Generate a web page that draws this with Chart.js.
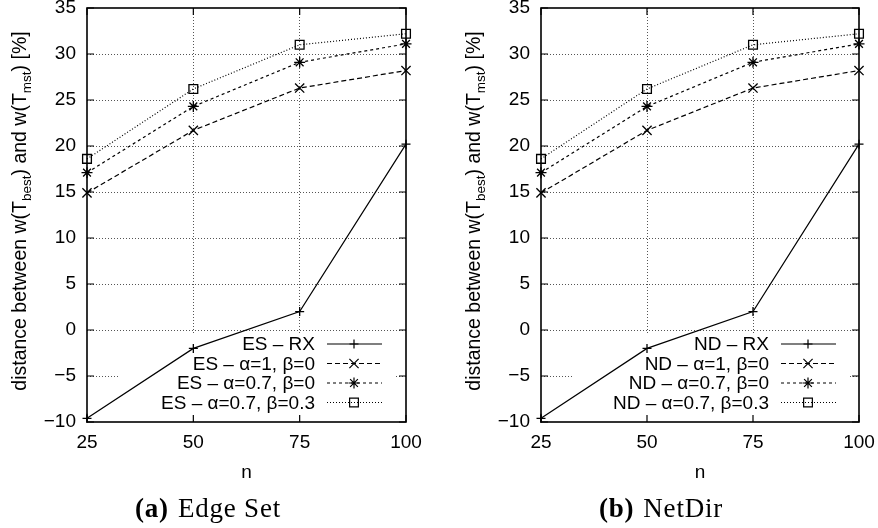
<!DOCTYPE html>
<html><head><meta charset="utf-8">
<script src="https://cdn.jsdelivr.net/npm/chart.js@4.4.1/dist/chart.umd.min.js"></script>
<style>
html,body{margin:0;padding:0;background:#fff;width:878px;height:528px;overflow:hidden;}
.panel{position:absolute;top:0;height:528px;}
canvas{display:block;}
.cap{position:absolute;top:493px;line-height:30px;font-family:"Liberation Serif","DejaVu Serif",serif;font-size:27px;letter-spacing:0.8px;color:#000;white-space:nowrap;transform:translateX(-50%);}
.cap b{margin-right:9px;}
</style></head><body>
<div class="panel" style="left:0;width:454px"><canvas id="c1" width="454" height="528"></canvas></div>
<div class="panel" style="left:454px;width:424px"><canvas id="c2" width="424" height="528"></canvas></div>
<div class="cap" style="left:208px"><b>(a)</b>Edge Set</div>
<div class="cap" style="left:661px"><b>(b)</b>NetDir</div>
<script>
// ---- data ----
const nValues = [25, 50, 75, 100];
const yTickMin = -10, yTickMax = 35, yTickStep = 5;

const esRX      = [-9.6, -2.0, 2.0, 20.2];
const esA1B0    = [14.9, 21.7, 26.3, 28.2];
const esA07B0   = [17.1, 24.3, 29.1, 31.1];
const esA07B03  = [18.6, 26.2, 31.0, 32.2];
const esLabels  = ['ES \u2013 RX', 'ES \u2013 \u03b1=1, \u03b2=0', 'ES \u2013 \u03b1=0.7, \u03b2=0', 'ES \u2013 \u03b1=0.7, \u03b2=0.3'];

const ndRX      = [-9.6, -2.0, 2.0, 20.2];
const ndA1B0    = [14.9, 21.7, 26.3, 28.2];
const ndA07B0   = [17.1, 24.3, 29.1, 31.1];
const ndA07B03  = [18.6, 26.2, 31.0, 32.2];
const ndLabels  = ['ND \u2013 RX', 'ND \u2013 \u03b1=1, \u03b2=0', 'ND \u2013 \u03b1=0.7, \u03b2=0', 'ND \u2013 \u03b1=0.7, \u03b2=0.3'];

const xTitle = 'n';

// ---- styles ----
const FONT = '"Liberation Sans", Arial, Helvetica, sans-serif';
const FS = 19;
const seriesStyles = [
  {dash: [], point: 'cross', r: 4.5},
  {dash: [5, 3], point: 'crossRot', r: 6.5},
  {dash: [3, 3], point: 'star', r: 5.5},
  {dash: [1, 2], point: 'rect', r: 6.2}
];

function toPoints(vals){ return vals.map((v, i) => ({x: nValues[i], y: v})); }

function drawMarker(ctx, style, x, y){
  Chart.helpers.drawPoint(ctx, {pointStyle: style.point, radius: style.r, borderWidth: 1.3, rotation: 0}, x, y);
}

const gnuplotPlugin = {
  id: 'gp',
  beforeDatasetsDraw(chart){
    const {ctx, chartArea: a} = chart;
    ctx.save();
    ctx.fillStyle = '#fff';
    const l = a.left + 31, r = a.left + 308, t = a.bottom - 89;
    ctx.fillRect(l, t, r - l, a.bottom - t);
    ctx.restore();
  },
  afterDatasetsDraw(chart, args, opts){
    const {ctx, chartArea: a, scales: {x, y}} = chart;
    ctx.save();
    // frame
    ctx.strokeStyle = '#000';
    ctx.lineWidth = 1.6;
    ctx.setLineDash([]);
    ctx.strokeRect(a.left, a.top, a.right - a.left, a.bottom - a.top);
    // inward tick marks
    ctx.lineWidth = 1.2;
    const tl = 7;
    ctx.beginPath();
    nValues.forEach(v => {
      const px = x.getPixelForValue(v);
      ctx.moveTo(px, a.bottom); ctx.lineTo(px, a.bottom - tl);
      ctx.moveTo(px, a.top); ctx.lineTo(px, a.top + tl);
    });
    for (let v = yTickMin; v <= yTickMax; v += yTickStep){
      const py = y.getPixelForValue(v);
      ctx.moveTo(a.left, py); ctx.lineTo(a.left + tl, py);
      ctx.moveTo(a.right, py); ctx.lineTo(a.right - tl, py);
    }
    ctx.stroke();
    // legend
    const labels = opts.labels;
    const rows = [78, 58.5, 39, 19.5];
    ctx.font = FS + 'px ' + FONT;
    ctx.fillStyle = '#000';
    ctx.textAlign = 'right';
    ctx.textBaseline = 'middle';
    labels.forEach((lab, i) => {
      const yy = a.bottom - rows[i];
      ctx.fillText(lab, a.left + 228, yy + 1);
      const st = seriesStyles[i];
      ctx.lineWidth = 1.2;
      ctx.strokeStyle = '#000';
      ctx.setLineDash(st.dash);
      ctx.beginPath();
      ctx.moveTo(a.left + 240, yy); ctx.lineTo(a.left + 295, yy);
      ctx.stroke();
      ctx.setLineDash([]);
      ctx.fillStyle = 'rgba(0,0,0,0)';
      drawMarker(ctx, st, a.left + 267, yy);
      ctx.fillStyle = '#000';
    });
    ctx.restore();
  },
  afterDraw(chart){
    // y-axis title with subscripts
    const {ctx, chartArea: a} = chart;
    const parts = [
      ['distance between w(T', false], ['best', true], [') and w(T', false], ['mst', true], [') [%]', false]
    ];
    const mainF = '19.5px ' + FONT, subF = '13.5px ' + FONT;
    ctx.save();
    let total = 0;
    parts.forEach(p => { ctx.font = p[1] ? subF : mainF; total += ctx.measureText(p[0]).width; });
    ctx.translate(26, (a.top + a.bottom) / 2 - 4);
    ctx.rotate(-Math.PI / 2);
    ctx.fillStyle = '#000';
    ctx.textBaseline = 'alphabetic';
    ctx.textAlign = 'left';
    let cx = -total / 2;
    parts.forEach(p => {
      ctx.font = p[1] ? subF : mainF;
      ctx.fillText(p[0], cx, p[1] ? 4.5 : 0);
      cx += ctx.measureText(p[0]).width;
    });
    ctx.restore();
  }
};

function makeChart(id, series, labels, padRight){
  const datasets = series.map((vals, i) => ({
    label: labels[i],
    data: toPoints(vals),
    borderColor: '#000',
    backgroundColor: 'rgba(0,0,0,0)',
    borderWidth: 1.2,
    borderDash: seriesStyles[i].dash,
    pointStyle: seriesStyles[i].point,
    pointRadius: seriesStyles[i].r,
    pointBorderWidth: 1.3,
    pointBorderColor: '#000',
    pointBackgroundColor: 'rgba(0,0,0,0)',
    tension: 0,
    clip: false
  }));
  return new Chart(document.getElementById(id), {
    type: 'line',
    data: {datasets},
    plugins: [gnuplotPlugin],
    options: {
      responsive: false,
      animation: false,
      events: [],
      layout: {padding: {top: 8, right: padRight, bottom: 0, left: 0}},
      plugins: {legend: {display: false}, tooltip: {enabled: false}, gp: {labels}},
      scales: {
        x: {
          type: 'linear', min: 25, max: 100,
          afterFit: s => { s.height = 106; s.paddingLeft = 0; s.paddingRight = 0; },
          ticks: {stepSize: 25, color: '#000', font: {family: FONT, size: FS}, padding: 9, maxRotation: 0},
          grid: {drawTicks: false, color: c => (c.tick && (c.tick.value === 25 || c.tick.value === 100)) ? 'rgba(0,0,0,0)' : '#555', lineWidth: 1},
          border: {display: false, dash: [1, 2]},
          title: {display: true, text: xTitle, color: '#000', font: {family: FONT, size: FS}, padding: {top: 0, bottom: 44}}
        },
        y: {
          type: 'linear', min: yTickMin, max: yTickMax,
          afterFit: s => { s.width = 87; s.paddingTop = 0; s.paddingBottom = 0; },
          ticks: {stepSize: yTickStep, color: '#000', font: {family: FONT, size: FS}, padding: 11,
                  callback: v => String(v).replace('-', '\u2212')},
          grid: {drawTicks: false, color: c => (c.tick && (c.tick.value === yTickMin || c.tick.value === yTickMax)) ? 'rgba(0,0,0,0)' : '#555', lineWidth: 1},
          border: {display: false, dash: [1, 2]}
        }
      }
    }
  });
}

makeChart('c1', [esRX, esA1B0, esA07B0, esA07B03], esLabels, 48);
makeChart('c2', [ndRX, ndA1B0, ndA07B0, ndA07B03], ndLabels, 19);
</script>
</body></html>
